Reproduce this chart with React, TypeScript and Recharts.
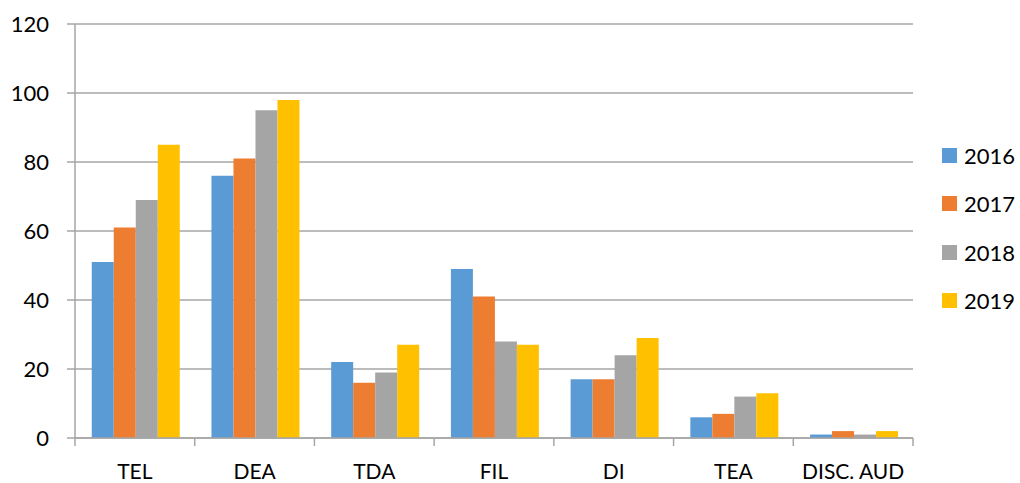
import React from 'react';
import { BarChart, Bar, XAxis, YAxis, CartesianGrid } from 'recharts';

const categories = ['TEL', 'DEA', 'TDA', 'FIL', 'DI', 'TEA', 'DISC. AUD'];
const s2016 = [51, 76, 22, 49, 17, 6, 1];
const s2017 = [61, 81, 16, 41, 17, 7, 2];
const s2018 = [69, 95, 19, 28, 24, 12, 1];
const s2019 = [85, 98, 27, 27, 29, 13, 2];
const yTicks = [0, 20, 40, 60, 80, 100, 120];

const seriesNames = ['2016', '2017', '2018', '2019'];
const seriesColors = ['#5B9BD5', '#ED7D31', '#A5A5A5', '#FFC000'];
const seriesValues = [s2016, s2017, s2018, s2019];

const data = categories.map((c, i) => {
  const row: Record<string, any> = { name: c };
  seriesNames.forEach((s, k) => {
    row[s] = seriesValues[k][i];
  });
  return row;
});

const GRID = '#A6A6A6';
const FONT = 'Lato, "Noto Sans", sans-serif';

const CategoryTick = (props: any) => {
  const { x, y, payload, index } = props;
  const half = payload && typeof payload.offset === 'number' ? payload.offset : 0;
  return (
    <g>
      {half > 0 && (
        <line x1={x - half} x2={x - half} y1={y} y2={y + 8} stroke={GRID} strokeWidth={1.5} />
      )}
      {half > 0 && index === categories.length - 1 && (
        <line x1={x + half} x2={x + half} y1={y} y2={y + 8} stroke={GRID} strokeWidth={1.5} />
      )}
      <text x={x} y={y + 41} textAnchor="middle" fill="#000" fontSize={21} fontFamily={FONT}>
        {payload.value}
      </text>
    </g>
  );
};

export default function App() {
  return (
    <div style={{ position: 'absolute', left: 0, top: 0, width: 1020, height: 483, background: '#fff', fontFamily: FONT }}>
      <BarChart
        width={1020}
        height={483}
        data={data}
        margin={{ top: 24, right: 107, bottom: 0, left: 0 }}
        barGap={0}
        barCategoryGap="14%"
      >
        <CartesianGrid horizontal vertical={false} stroke={GRID} strokeWidth={1.5} />
        <XAxis
          dataKey="name"
          height={45}
          tickLine={false}
          tickSize={0}
          tickMargin={0}
          axisLine={{ stroke: GRID, strokeWidth: 1.5 }}
          tick={<CategoryTick />}
          interval={0}
        />
        <YAxis
          width={75}
          domain={[0, 120]}
          ticks={yTicks}
          interval={0}
          tickSize={8}
          tickMargin={18}
          tickLine={{ stroke: GRID, strokeWidth: 1.5 }}
          axisLine={{ stroke: GRID, strokeWidth: 1.5 }}
          tick={{ fill: '#000', fontSize: 22, fontFamily: FONT }}
        />
        {seriesNames.map((s, k) => (
          <Bar key={s} dataKey={s} fill={seriesColors[k]} isAnimationActive={false} />
        ))}
      </BarChart>
      <div style={{ position: 'absolute', left: 942, top: 131, fontFamily: FONT, fontSize: 22, color: '#000' }}>
        {seriesNames.map((s, k) => (
          <div key={s} style={{ display: 'flex', alignItems: 'center', height: 48.5 }}>
            <div style={{ width: 15, height: 15, background: seriesColors[k], marginRight: 7 }} />
            <span>{s}</span>
          </div>
        ))}
      </div>
    </div>
  );
}
